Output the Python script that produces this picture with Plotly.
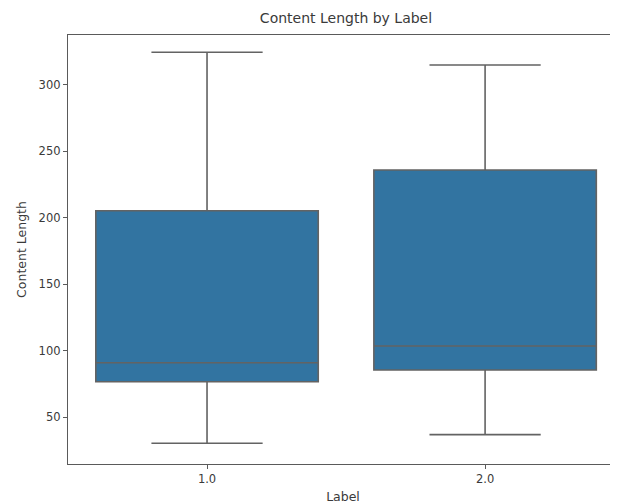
import plotly.graph_objects as go

# Data
categories = ["1.0", "2.0"]
positions = [0, 1]
lower_whisker = [30.5, 37.0]
q1_values = [76.8, 85.6]
medians = [91.1, 103.7]
q3_values = [205.4, 236.1]
upper_whisker = [324.6, 315.0]

fig = go.Figure()
fig.add_trace(go.Box(
    x=positions,
    q1=q1_values,
    median=medians,
    q3=q3_values,
    lowerfence=lower_whisker,
    upperfence=upper_whisker,
    boxpoints=False,
    width=0.8,
    whiskerwidth=0.5,
    fillcolor="#3274a1",
    line=dict(color="#636363", width=1.6),
    showlegend=False,
    hoverinfo="skip",
))

# the page body adds an 8px offset; figure sized so the plot area is cropped at the right edge
W, H = 610, 496
font_family = "DejaVu Sans"
text_color = "#3a3a3a"
axis_color = "#5a5a5a"
fig.update_layout(
    width=W,
    height=H,
    margin=dict(l=60, r=0, t=27, b=40, autoexpand=False),
    paper_bgcolor="white",
    plot_bgcolor="white",
    font=dict(family=font_family, size=11.5, color=text_color),
    title=dict(
        text="Content Length by Label",
        x=338 / W,
        xanchor="center",
        y=1 - 10 / H,
        yanchor="middle",
        font=dict(size=14, color=text_color, family=font_family),
    ),
)
fig.update_xaxes(
    range=[-0.5, 1.478],
    tickvals=positions,
    ticktext=categories,
    showline=True,
    linecolor=axis_color,
    linewidth=1.3,
    mirror=True,
    ticks="outside",
    ticklen=4,
    tickcolor=axis_color,
    showgrid=False,
    zeroline=False,
    automargin=False,
    title=dict(text="Label", standoff=7, font=dict(size=12.5)),
)
fig.update_yaxes(
    range=[14.9, 337.6],
    tickvals=[50, 100, 150, 200, 250, 300],
    showline=True,
    linecolor=axis_color,
    linewidth=1.3,
    mirror=False,
    ticks="outside",
    ticklen=4,
    tickcolor=axis_color,
    showgrid=False,
    zeroline=False,
    automargin=False,
    title=dict(text="Content Length", standoff=9, font=dict(size=12.5)),
)

fig.write_html("out.html")
